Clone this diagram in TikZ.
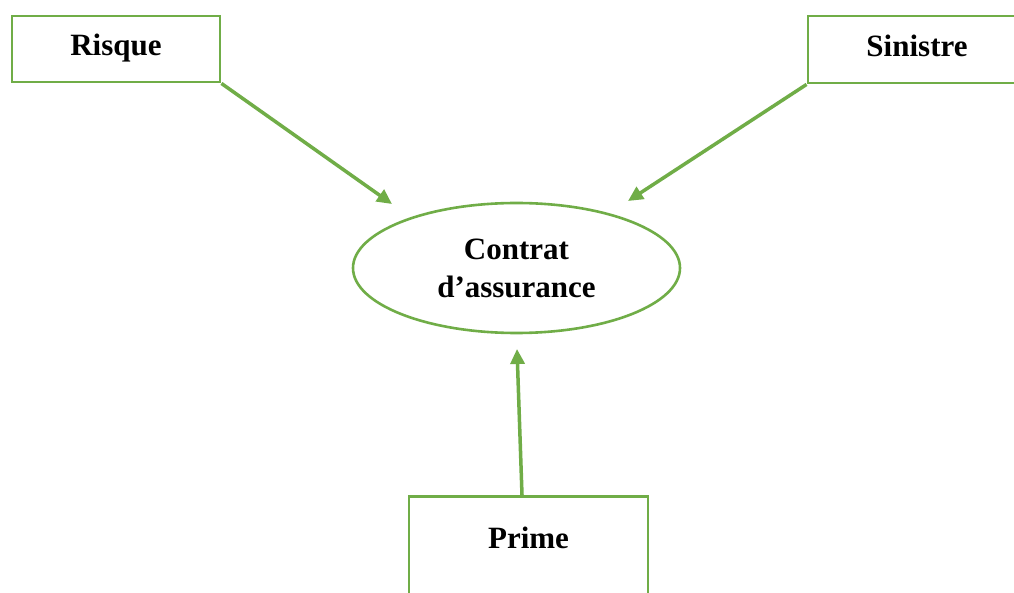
\documentclass[tikz,border=0pt]{standalone}
\usepackage{fontspec}
\setmainfont{Liberation Serif}
\usetikzlibrary{arrows.meta,shapes.geometric,positioning}
\definecolor{assurgreen}{RGB}{112,173,71}

\begin{document}
\begin{tikzpicture}[x=1pt, y=-1pt,
        box/.style={draw=assurgreen, line width=2.9pt, rectangle, fill=white,
            font=\fontsize{31}{38}\selectfont\bfseries},
        contrat/.style={draw=assurgreen, line width=2.6pt, ellipse, inner sep=0pt,
            minimum width=327pt, minimum height=130pt, align=center,
            font=\fontsize{31}{38}\selectfont\bfseries},
        fleche/.style={draw=assurgreen, line width=3.5pt, -{Triangle[length=15pt,width=14pt]}}
    ]
        \clip (0,0) rectangle (1014,593);
        \fill[white] (0,0) rectangle (1014,593);

        % 1. The three boxes
        \node[box, minimum width=208pt, minimum height=66pt, text height=21pt, text depth=7pt] (risque) at (116,49) {Risque};
        \node[box, minimum width=218pt, minimum height=67pt, text height=21pt, text depth=7pt] (sinistre) at (917,49.5) {Sinistre};
        \node[box, anchor=north, minimum width=239pt, inner ysep=30pt,
            text height=22pt, text depth=60pt] (prime) at (528.5,495) {Prime};

        % 2. The contract
        \node[contrat] (contrat) at (516.5,268) {Contrat\\d’assurance};

        % Arrow ends
        \coordinate (tipR) at (392,204);
        \coordinate (tipS) at (628,201);
        \coordinate (tipP) at (517,349);
        \coordinate (startP) at (522,495);

        % Arrows
        \draw[fleche] (risque.south east) -- (tipR);
        \draw[fleche] (sinistre.south west) -- (tipS);
        \draw[fleche] (startP) -- (tipP);

    \end{tikzpicture}
\end{document}
